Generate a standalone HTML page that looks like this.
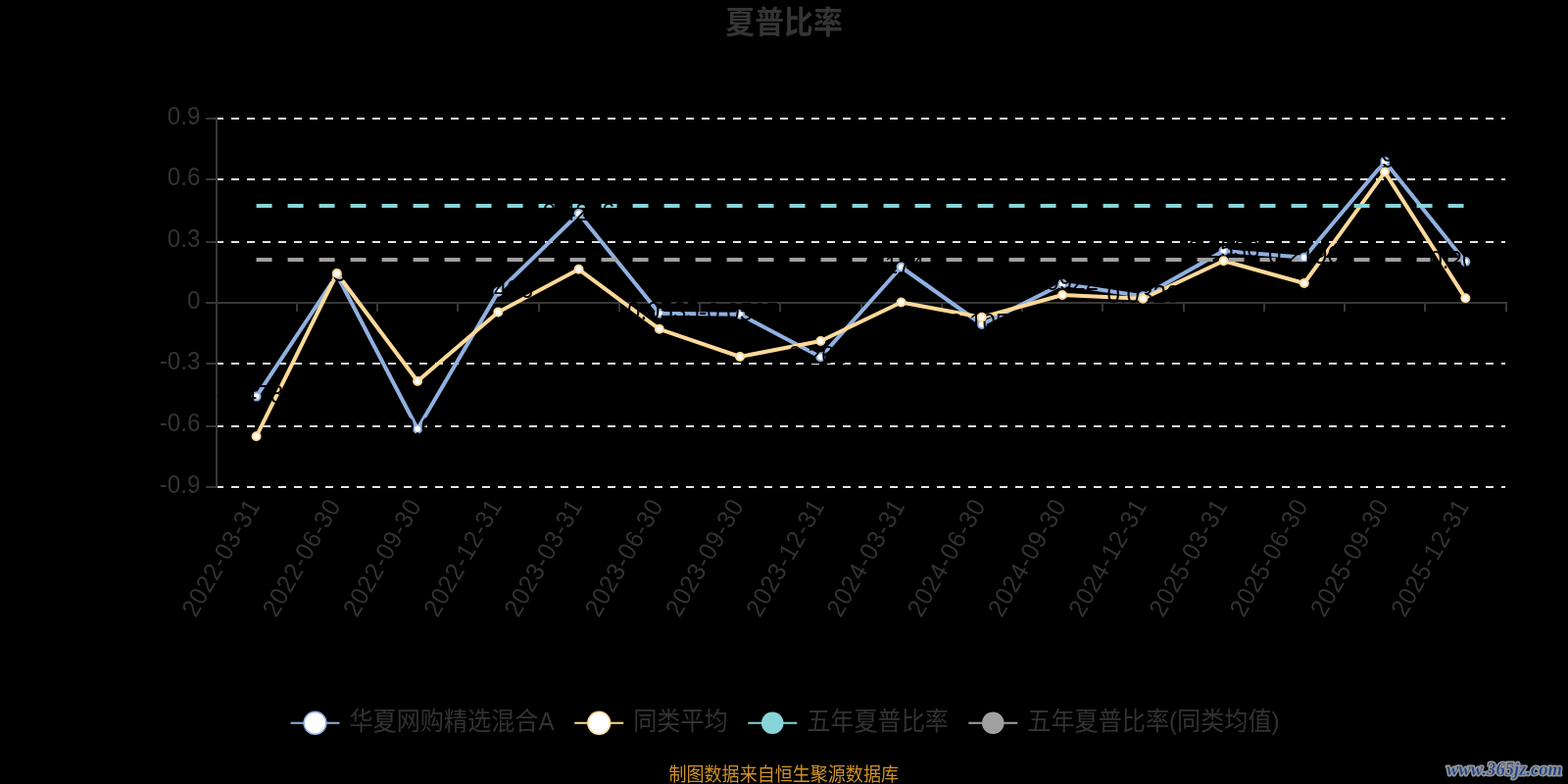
<!DOCTYPE html>
<html lang="zh-CN"><head><meta charset="utf-8"><title>夏普比率</title>
<style>
html,body{margin:0;padding:0;background:#000;}
body{width:1600px;height:800px;overflow:hidden;font-family:"Liberation Sans",sans-serif;}
svg{display:block;position:absolute;left:0;top:0;will-change:transform;}
text{font-family:"Liberation Sans",sans-serif;}
.cjk{font-family:"Liberation Sans","Noto Sans CJK SC",sans-serif;}
.ax{font-size:25.8px;fill:#323232;}
.lb{font-size:25.8px;fill:#000;text-anchor:middle;}
.wm{font-family:"Liberation Serif",serif;font-weight:bold;font-style:italic;font-size:18.6px;}
</style></head><body>
<svg width="1600" height="800" viewBox="0 0 1600 800">
<rect width="1600" height="800" fill="#000"/>
<text class="cjk" font-size="32" font-weight="bold" fill="#343434" transform="translate(740.23 34.23) scale(0.935 1)">夏普比率</text>
<g fill="#e5e5e5" shape-rendering="crispEdges">
<path d="M220 120h8v2h-8zM236 120h8v2h-8zM252 120h8v2h-8zM268 120h8v2h-8zM284 120h8v2h-8zM300 120h8v2h-8zM316 120h8v2h-8zM332 120h8v2h-8zM348 120h8v2h-8zM364 120h8v2h-8zM380 120h8v2h-8zM396 120h8v2h-8zM412 120h8v2h-8zM428 120h8v2h-8zM444 120h8v2h-8zM460 120h8v2h-8zM476 120h8v2h-8zM492 120h8v2h-8zM508 120h8v2h-8zM524 120h8v2h-8zM540 120h8v2h-8zM556 120h8v2h-8zM572 120h8v2h-8zM588 120h8v2h-8zM604 120h8v2h-8zM620 120h8v2h-8zM636 120h8v2h-8zM652 120h8v2h-8zM668 120h8v2h-8zM684 120h8v2h-8zM700 120h8v2h-8zM716 120h8v2h-8zM732 120h8v2h-8zM748 120h8v2h-8zM764 120h8v2h-8zM780 120h8v2h-8zM796 120h8v2h-8zM812 120h8v2h-8zM828 120h8v2h-8zM844 120h8v2h-8zM860 120h8v2h-8zM876 120h8v2h-8zM892 120h8v2h-8zM908 120h8v2h-8zM924 120h8v2h-8zM940 120h8v2h-8zM956 120h8v2h-8zM972 120h8v2h-8zM988 120h8v2h-8zM1004 120h8v2h-8zM1020 120h8v2h-8zM1036 120h8v2h-8zM1052 120h8v2h-8zM1068 120h8v2h-8zM1084 120h8v2h-8zM1100 120h8v2h-8zM1116 120h8v2h-8zM1132 120h8v2h-8zM1148 120h8v2h-8zM1164 120h8v2h-8zM1180 120h8v2h-8zM1196 120h8v2h-8zM1212 120h8v2h-8zM1228 120h8v2h-8zM1244 120h8v2h-8zM1260 120h8v2h-8zM1276 120h8v2h-8zM1292 120h8v2h-8zM1308 120h8v2h-8zM1324 120h8v2h-8zM1340 120h8v2h-8zM1356 120h8v2h-8zM1372 120h8v2h-8zM1388 120h8v2h-8zM1404 120h8v2h-8zM1420 120h8v2h-8zM1436 120h8v2h-8zM1452 120h8v2h-8zM1468 120h8v2h-8zM1484 120h8v2h-8zM1500 120h8v2h-8zM1516 120h8v2h-8zM1532 120h4v2h-4z"/>
<path d="M220 182h8v2h-8zM236 182h8v2h-8zM252 182h8v2h-8zM268 182h8v2h-8zM284 182h8v2h-8zM300 182h8v2h-8zM316 182h8v2h-8zM332 182h8v2h-8zM348 182h8v2h-8zM364 182h8v2h-8zM380 182h8v2h-8zM396 182h8v2h-8zM412 182h8v2h-8zM428 182h8v2h-8zM444 182h8v2h-8zM460 182h8v2h-8zM476 182h8v2h-8zM492 182h8v2h-8zM508 182h8v2h-8zM524 182h8v2h-8zM540 182h8v2h-8zM556 182h8v2h-8zM572 182h8v2h-8zM588 182h8v2h-8zM604 182h8v2h-8zM620 182h8v2h-8zM636 182h8v2h-8zM652 182h8v2h-8zM668 182h8v2h-8zM684 182h8v2h-8zM700 182h8v2h-8zM716 182h8v2h-8zM732 182h8v2h-8zM748 182h8v2h-8zM764 182h8v2h-8zM780 182h8v2h-8zM796 182h8v2h-8zM812 182h8v2h-8zM828 182h8v2h-8zM844 182h8v2h-8zM860 182h8v2h-8zM876 182h8v2h-8zM892 182h8v2h-8zM908 182h8v2h-8zM924 182h8v2h-8zM940 182h8v2h-8zM956 182h8v2h-8zM972 182h8v2h-8zM988 182h8v2h-8zM1004 182h8v2h-8zM1020 182h8v2h-8zM1036 182h8v2h-8zM1052 182h8v2h-8zM1068 182h8v2h-8zM1084 182h8v2h-8zM1100 182h8v2h-8zM1116 182h8v2h-8zM1132 182h8v2h-8zM1148 182h8v2h-8zM1164 182h8v2h-8zM1180 182h8v2h-8zM1196 182h8v2h-8zM1212 182h8v2h-8zM1228 182h8v2h-8zM1244 182h8v2h-8zM1260 182h8v2h-8zM1276 182h8v2h-8zM1292 182h8v2h-8zM1308 182h8v2h-8zM1324 182h8v2h-8zM1340 182h8v2h-8zM1356 182h8v2h-8zM1372 182h8v2h-8zM1388 182h8v2h-8zM1404 182h8v2h-8zM1420 182h8v2h-8zM1436 182h8v2h-8zM1452 182h8v2h-8zM1468 182h8v2h-8zM1484 182h8v2h-8zM1500 182h8v2h-8zM1516 182h8v2h-8zM1532 182h4v2h-4z"/>
<path d="M220 246h8v2h-8zM236 246h8v2h-8zM252 246h8v2h-8zM268 246h8v2h-8zM284 246h8v2h-8zM300 246h8v2h-8zM316 246h8v2h-8zM332 246h8v2h-8zM348 246h8v2h-8zM364 246h8v2h-8zM380 246h8v2h-8zM396 246h8v2h-8zM412 246h8v2h-8zM428 246h8v2h-8zM444 246h8v2h-8zM460 246h8v2h-8zM476 246h8v2h-8zM492 246h8v2h-8zM508 246h8v2h-8zM524 246h8v2h-8zM540 246h8v2h-8zM556 246h8v2h-8zM572 246h8v2h-8zM588 246h8v2h-8zM604 246h8v2h-8zM620 246h8v2h-8zM636 246h8v2h-8zM652 246h8v2h-8zM668 246h8v2h-8zM684 246h8v2h-8zM700 246h8v2h-8zM716 246h8v2h-8zM732 246h8v2h-8zM748 246h8v2h-8zM764 246h8v2h-8zM780 246h8v2h-8zM796 246h8v2h-8zM812 246h8v2h-8zM828 246h8v2h-8zM844 246h8v2h-8zM860 246h8v2h-8zM876 246h8v2h-8zM892 246h8v2h-8zM908 246h8v2h-8zM924 246h8v2h-8zM940 246h8v2h-8zM956 246h8v2h-8zM972 246h8v2h-8zM988 246h8v2h-8zM1004 246h8v2h-8zM1020 246h8v2h-8zM1036 246h8v2h-8zM1052 246h8v2h-8zM1068 246h8v2h-8zM1084 246h8v2h-8zM1100 246h8v2h-8zM1116 246h8v2h-8zM1132 246h8v2h-8zM1148 246h8v2h-8zM1164 246h8v2h-8zM1180 246h8v2h-8zM1196 246h8v2h-8zM1212 246h8v2h-8zM1228 246h8v2h-8zM1244 246h8v2h-8zM1260 246h8v2h-8zM1276 246h8v2h-8zM1292 246h8v2h-8zM1308 246h8v2h-8zM1324 246h8v2h-8zM1340 246h8v2h-8zM1356 246h8v2h-8zM1372 246h8v2h-8zM1388 246h8v2h-8zM1404 246h8v2h-8zM1420 246h8v2h-8zM1436 246h8v2h-8zM1452 246h8v2h-8zM1468 246h8v2h-8zM1484 246h8v2h-8zM1500 246h8v2h-8zM1516 246h8v2h-8zM1532 246h4v2h-4z"/>
<path d="M220 370h8v2h-8zM236 370h8v2h-8zM252 370h8v2h-8zM268 370h8v2h-8zM284 370h8v2h-8zM300 370h8v2h-8zM316 370h8v2h-8zM332 370h8v2h-8zM348 370h8v2h-8zM364 370h8v2h-8zM380 370h8v2h-8zM396 370h8v2h-8zM412 370h8v2h-8zM428 370h8v2h-8zM444 370h8v2h-8zM460 370h8v2h-8zM476 370h8v2h-8zM492 370h8v2h-8zM508 370h8v2h-8zM524 370h8v2h-8zM540 370h8v2h-8zM556 370h8v2h-8zM572 370h8v2h-8zM588 370h8v2h-8zM604 370h8v2h-8zM620 370h8v2h-8zM636 370h8v2h-8zM652 370h8v2h-8zM668 370h8v2h-8zM684 370h8v2h-8zM700 370h8v2h-8zM716 370h8v2h-8zM732 370h8v2h-8zM748 370h8v2h-8zM764 370h8v2h-8zM780 370h8v2h-8zM796 370h8v2h-8zM812 370h8v2h-8zM828 370h8v2h-8zM844 370h8v2h-8zM860 370h8v2h-8zM876 370h8v2h-8zM892 370h8v2h-8zM908 370h8v2h-8zM924 370h8v2h-8zM940 370h8v2h-8zM956 370h8v2h-8zM972 370h8v2h-8zM988 370h8v2h-8zM1004 370h8v2h-8zM1020 370h8v2h-8zM1036 370h8v2h-8zM1052 370h8v2h-8zM1068 370h8v2h-8zM1084 370h8v2h-8zM1100 370h8v2h-8zM1116 370h8v2h-8zM1132 370h8v2h-8zM1148 370h8v2h-8zM1164 370h8v2h-8zM1180 370h8v2h-8zM1196 370h8v2h-8zM1212 370h8v2h-8zM1228 370h8v2h-8zM1244 370h8v2h-8zM1260 370h8v2h-8zM1276 370h8v2h-8zM1292 370h8v2h-8zM1308 370h8v2h-8zM1324 370h8v2h-8zM1340 370h8v2h-8zM1356 370h8v2h-8zM1372 370h8v2h-8zM1388 370h8v2h-8zM1404 370h8v2h-8zM1420 370h8v2h-8zM1436 370h8v2h-8zM1452 370h8v2h-8zM1468 370h8v2h-8zM1484 370h8v2h-8zM1500 370h8v2h-8zM1516 370h8v2h-8zM1532 370h4v2h-4z"/>
<path d="M220 434h8v2h-8zM236 434h8v2h-8zM252 434h8v2h-8zM268 434h8v2h-8zM284 434h8v2h-8zM300 434h8v2h-8zM316 434h8v2h-8zM332 434h8v2h-8zM348 434h8v2h-8zM364 434h8v2h-8zM380 434h8v2h-8zM396 434h8v2h-8zM412 434h8v2h-8zM428 434h8v2h-8zM444 434h8v2h-8zM460 434h8v2h-8zM476 434h8v2h-8zM492 434h8v2h-8zM508 434h8v2h-8zM524 434h8v2h-8zM540 434h8v2h-8zM556 434h8v2h-8zM572 434h8v2h-8zM588 434h8v2h-8zM604 434h8v2h-8zM620 434h8v2h-8zM636 434h8v2h-8zM652 434h8v2h-8zM668 434h8v2h-8zM684 434h8v2h-8zM700 434h8v2h-8zM716 434h8v2h-8zM732 434h8v2h-8zM748 434h8v2h-8zM764 434h8v2h-8zM780 434h8v2h-8zM796 434h8v2h-8zM812 434h8v2h-8zM828 434h8v2h-8zM844 434h8v2h-8zM860 434h8v2h-8zM876 434h8v2h-8zM892 434h8v2h-8zM908 434h8v2h-8zM924 434h8v2h-8zM940 434h8v2h-8zM956 434h8v2h-8zM972 434h8v2h-8zM988 434h8v2h-8zM1004 434h8v2h-8zM1020 434h8v2h-8zM1036 434h8v2h-8zM1052 434h8v2h-8zM1068 434h8v2h-8zM1084 434h8v2h-8zM1100 434h8v2h-8zM1116 434h8v2h-8zM1132 434h8v2h-8zM1148 434h8v2h-8zM1164 434h8v2h-8zM1180 434h8v2h-8zM1196 434h8v2h-8zM1212 434h8v2h-8zM1228 434h8v2h-8zM1244 434h8v2h-8zM1260 434h8v2h-8zM1276 434h8v2h-8zM1292 434h8v2h-8zM1308 434h8v2h-8zM1324 434h8v2h-8zM1340 434h8v2h-8zM1356 434h8v2h-8zM1372 434h8v2h-8zM1388 434h8v2h-8zM1404 434h8v2h-8zM1420 434h8v2h-8zM1436 434h8v2h-8zM1452 434h8v2h-8zM1468 434h8v2h-8zM1484 434h8v2h-8zM1500 434h8v2h-8zM1516 434h8v2h-8zM1532 434h4v2h-4z"/>
<path d="M220 496h8v2h-8zM236 496h8v2h-8zM252 496h8v2h-8zM268 496h8v2h-8zM284 496h8v2h-8zM300 496h8v2h-8zM316 496h8v2h-8zM332 496h8v2h-8zM348 496h8v2h-8zM364 496h8v2h-8zM380 496h8v2h-8zM396 496h8v2h-8zM412 496h8v2h-8zM428 496h8v2h-8zM444 496h8v2h-8zM460 496h8v2h-8zM476 496h8v2h-8zM492 496h8v2h-8zM508 496h8v2h-8zM524 496h8v2h-8zM540 496h8v2h-8zM556 496h8v2h-8zM572 496h8v2h-8zM588 496h8v2h-8zM604 496h8v2h-8zM620 496h8v2h-8zM636 496h8v2h-8zM652 496h8v2h-8zM668 496h8v2h-8zM684 496h8v2h-8zM700 496h8v2h-8zM716 496h8v2h-8zM732 496h8v2h-8zM748 496h8v2h-8zM764 496h8v2h-8zM780 496h8v2h-8zM796 496h8v2h-8zM812 496h8v2h-8zM828 496h8v2h-8zM844 496h8v2h-8zM860 496h8v2h-8zM876 496h8v2h-8zM892 496h8v2h-8zM908 496h8v2h-8zM924 496h8v2h-8zM940 496h8v2h-8zM956 496h8v2h-8zM972 496h8v2h-8zM988 496h8v2h-8zM1004 496h8v2h-8zM1020 496h8v2h-8zM1036 496h8v2h-8zM1052 496h8v2h-8zM1068 496h8v2h-8zM1084 496h8v2h-8zM1100 496h8v2h-8zM1116 496h8v2h-8zM1132 496h8v2h-8zM1148 496h8v2h-8zM1164 496h8v2h-8zM1180 496h8v2h-8zM1196 496h8v2h-8zM1212 496h8v2h-8zM1228 496h8v2h-8zM1244 496h8v2h-8zM1260 496h8v2h-8zM1276 496h8v2h-8zM1292 496h8v2h-8zM1308 496h8v2h-8zM1324 496h8v2h-8zM1340 496h8v2h-8zM1356 496h8v2h-8zM1372 496h8v2h-8zM1388 496h8v2h-8zM1404 496h8v2h-8zM1420 496h8v2h-8zM1436 496h8v2h-8zM1452 496h8v2h-8zM1468 496h8v2h-8zM1484 496h8v2h-8zM1500 496h8v2h-8zM1516 496h8v2h-8zM1532 496h4v2h-4z"/>
</g>
<g fill="#373737" shape-rendering="crispEdges">
<rect x="220" y="120" width="2" height="378"/>
<rect x="220" y="119" width="2" height="1" fill-opacity="0.55"/>
<rect x="210" y="120" width="10" height="2"/>
<rect x="210" y="182" width="10" height="2"/>
<rect x="210" y="246" width="10" height="2"/>
<rect x="210" y="308" width="10" height="2"/>
<rect x="210" y="370" width="10" height="2"/>
<rect x="210" y="434" width="10" height="2"/>
<rect x="210" y="496" width="10" height="2"/>
<rect x="220" y="308" width="1318" height="2"/>
<rect x="220" y="310" width="2" height="8"/>
<rect x="302" y="310" width="2" height="8"/>
<rect x="384" y="310" width="2" height="8"/>
<rect x="466" y="310" width="2" height="8"/>
<rect x="549" y="310" width="2" height="8"/>
<rect x="631" y="310" width="2" height="8"/>
<rect x="713" y="310" width="2" height="8"/>
<rect x="795" y="310" width="2" height="8"/>
<rect x="878" y="310" width="2" height="8"/>
<rect x="960" y="310" width="2" height="8"/>
<rect x="1042" y="310" width="2" height="8"/>
<rect x="1124" y="310" width="2" height="8"/>
<rect x="1207" y="310" width="2" height="8"/>
<rect x="1289" y="310" width="2" height="8"/>
<rect x="1371" y="310" width="2" height="8"/>
<rect x="1453" y="310" width="2" height="8"/>
<rect x="1536" y="310" width="2" height="8"/>
</g>
<text class="ax" text-anchor="end" transform="translate(204.4 126.5) scale(0.935 1)">0.9</text>
<text class="ax" text-anchor="end" transform="translate(204.4 189.2) scale(0.935 1)">0.6</text>
<text class="ax" text-anchor="end" transform="translate(204.4 251.8) scale(0.935 1)">0.3</text>
<text class="ax" text-anchor="end" transform="translate(204.4 314.5) scale(0.935 1)">0</text>
<text class="ax" text-anchor="end" transform="translate(204.4 377.2) scale(0.935 1)">-0.3</text>
<text class="ax" text-anchor="end" transform="translate(204.4 439.8) scale(0.935 1)">-0.6</text>
<text class="ax" text-anchor="end" transform="translate(204.4 502.5) scale(0.935 1)">-0.9</text>
<text class="ax" letter-spacing="1.1" transform="translate(199.65 630.95) rotate(-60) scale(0.935 1)">2022-03-31</text>
<text class="ax" letter-spacing="1.1" transform="translate(281.90 630.95) rotate(-60) scale(0.935 1)">2022-06-30</text>
<text class="ax" letter-spacing="1.1" transform="translate(364.15 630.95) rotate(-60) scale(0.935 1)">2022-09-30</text>
<text class="ax" letter-spacing="1.1" transform="translate(446.40 630.95) rotate(-60) scale(0.935 1)">2022-12-31</text>
<text class="ax" letter-spacing="1.1" transform="translate(528.65 630.95) rotate(-60) scale(0.935 1)">2023-03-31</text>
<text class="ax" letter-spacing="1.1" transform="translate(610.90 630.95) rotate(-60) scale(0.935 1)">2023-06-30</text>
<text class="ax" letter-spacing="1.1" transform="translate(693.15 630.95) rotate(-60) scale(0.935 1)">2023-09-30</text>
<text class="ax" letter-spacing="1.1" transform="translate(775.40 630.95) rotate(-60) scale(0.935 1)">2023-12-31</text>
<text class="ax" letter-spacing="1.1" transform="translate(857.65 630.95) rotate(-60) scale(0.935 1)">2024-03-31</text>
<text class="ax" letter-spacing="1.1" transform="translate(939.90 630.95) rotate(-60) scale(0.935 1)">2024-06-30</text>
<text class="ax" letter-spacing="1.1" transform="translate(1022.15 630.95) rotate(-60) scale(0.935 1)">2024-09-30</text>
<text class="ax" letter-spacing="1.1" transform="translate(1104.40 630.95) rotate(-60) scale(0.935 1)">2024-12-31</text>
<text class="ax" letter-spacing="1.1" transform="translate(1186.65 630.95) rotate(-60) scale(0.935 1)">2025-03-31</text>
<text class="ax" letter-spacing="1.1" transform="translate(1268.90 630.95) rotate(-60) scale(0.935 1)">2025-06-30</text>
<text class="ax" letter-spacing="1.1" transform="translate(1351.15 630.95) rotate(-60) scale(0.935 1)">2025-09-30</text>
<text class="ax" letter-spacing="1.1" transform="translate(1433.40 630.95) rotate(-60) scale(0.935 1)">2025-12-31</text>
<polyline points="261.57,404.60 343.82,280.50 426.07,437.70 508.32,297.80 590.58,218.00 672.83,319.70 755.08,320.80 837.33,364.30 919.58,272.50 1001.83,331.00 1084.08,289.80 1166.33,302.20 1248.58,256.00 1330.83,262.80 1413.08,164.70 1495.33,267.10" fill="none" stroke="#8fb0e0" stroke-width="4" stroke-linejoin="bevel"/>
<polyline points="261.57,445.30 343.82,279.00 426.07,389.00 508.32,318.50 590.58,274.80 672.83,335.80 755.08,364.00 837.33,348.00 919.58,308.50 1001.83,323.80 1084.08,301.00 1166.33,304.80 1248.58,266.20 1330.83,289.00 1413.08,175.60 1495.33,304.30" fill="none" stroke="#fdd998" stroke-width="4" stroke-linejoin="bevel"/>
<path d="M261.57 210.0H1495.33" stroke="#87d4d8" stroke-width="4" stroke-dasharray="16 16" fill="none"/>
<path d="M261.57 265.0H1495.33" stroke="#a0a0a0" stroke-width="4" stroke-dasharray="16 16" fill="none"/>
<g fill="#fff" stroke="#8fb0e0" stroke-width="2">
<circle cx="261.57" cy="404.60" r="4"/>
<circle cx="343.82" cy="280.50" r="4"/>
<circle cx="426.07" cy="437.70" r="4"/>
<circle cx="508.32" cy="297.80" r="4"/>
<circle cx="590.58" cy="218.00" r="4"/>
<circle cx="672.83" cy="319.70" r="4"/>
<circle cx="755.08" cy="320.80" r="4"/>
<circle cx="837.33" cy="364.30" r="4"/>
<circle cx="919.58" cy="272.50" r="4"/>
<circle cx="1001.83" cy="331.00" r="4"/>
<circle cx="1084.08" cy="289.80" r="4"/>
<circle cx="1166.33" cy="302.20" r="4"/>
<circle cx="1248.58" cy="256.00" r="4"/>
<circle cx="1330.83" cy="262.80" r="4"/>
<circle cx="1413.08" cy="164.70" r="4"/>
<circle cx="1495.33" cy="267.10" r="4"/>
</g>
<g>
<text class="lb" transform="translate(261.57 411.20) scale(0.935 1)">-0.4783</text>
<text class="lb" transform="translate(342.82 287.10) scale(0.935 1)">0.1305</text>
<text class="lb" transform="translate(428.68 444.30) scale(0.935 1)">-0.62</text>
<text class="lb" transform="translate(507.32 304.40) scale(0.935 1)">0.0436</text>
<text class="lb" transform="translate(590.58 224.60) scale(0.935 1)">0.4236</text>
<text class="lb" transform="translate(672.83 326.30) scale(0.935 1)">-0.0535</text>
<text class="lb" transform="translate(754.08 327.40) scale(0.935 1)">-0.0565</text>
<text class="lb" transform="translate(837.33 370.90) scale(0.935 1)">-0.2647</text>
<text class="lb" transform="translate(919.58 279.10) scale(0.935 1)">0.1747</text>
<text class="lb" transform="translate(1001.83 337.60) scale(0.935 1)">-0.1053</text>
<text class="lb" transform="translate(1084.08 296.40) scale(0.935 1)">0.0922</text>
<text class="lb" transform="translate(1166.33 308.80) scale(0.935 1)">0.0326</text>
<text class="lb" transform="translate(1248.58 262.60) scale(0.935 1)">0.2536</text>
<text class="lb" transform="translate(1330.83 269.40) scale(0.935 1)">0.2196</text>
<text class="lb" transform="translate(1413.08 171.30) scale(0.935 1)">0.6906</text>
<text class="lb" transform="translate(1495.33 273.70) scale(0.935 1)">0.2006</text>
</g>
<g fill="#fff" stroke="#fdd998" stroke-width="2">
<circle cx="261.57" cy="445.30" r="4"/>
<circle cx="343.82" cy="279.00" r="4"/>
<circle cx="426.07" cy="389.00" r="4"/>
<circle cx="508.32" cy="318.50" r="4"/>
<circle cx="590.58" cy="274.80" r="4"/>
<circle cx="672.83" cy="335.80" r="4"/>
<circle cx="755.08" cy="364.00" r="4"/>
<circle cx="837.33" cy="348.00" r="4"/>
<circle cx="919.58" cy="308.50" r="4"/>
<circle cx="1001.83" cy="323.80" r="4"/>
<circle cx="1084.08" cy="301.00" r="4"/>
<circle cx="1166.33" cy="304.80" r="4"/>
<circle cx="1248.58" cy="266.20" r="4"/>
<circle cx="1330.83" cy="289.00" r="4"/>
<circle cx="1413.08" cy="175.60" r="4"/>
<circle cx="1495.33" cy="304.30" r="4"/>
</g>
<path d="M296.50 737.80h50" stroke="#8fb0e0" stroke-width="2" fill="none"/>
<circle cx="321.50" cy="737.80" r="11.4" fill="#fff" stroke="#8fb0e0" stroke-width="1.6"/>
<text class="cjk" font-size="25.8" fill="#323232" transform="translate(356.50 745.03) scale(0.935 1)">华夏网购精选混合A</text>
<path d="M586.25 737.80h50" stroke="#fdd998" stroke-width="2" fill="none"/>
<circle cx="611.25" cy="737.80" r="11.4" fill="#fff" stroke="#fdd998" stroke-width="1.6"/>
<text class="cjk" font-size="25.8" fill="#323232" transform="translate(646.25 745.03) scale(0.935 1)">同类平均</text>
<path d="M763.25 737.80h50" stroke="#87d4d8" stroke-width="2" fill="none"/>
<circle cx="788.25" cy="737.80" r="11.3" fill="#87d4d8"/>
<text class="cjk" font-size="25.8" fill="#323232" transform="translate(823.25 745.03) scale(0.935 1)">五年夏普比率</text>
<path d="M988.30 737.80h50" stroke="#a0a0a0" stroke-width="2" fill="none"/>
<circle cx="1013.30" cy="737.80" r="11.3" fill="#a0a0a0"/>
<text class="cjk" font-size="25.8" fill="#323232" transform="translate(1048.30 745.03) scale(0.935 1)">五年夏普比率(同类均值)</text>
<text class="cjk" font-size="19.3" fill="#cf9229" transform="translate(682.52 796.73) scale(0.935 1)">制图数据来自恒生聚源数据库</text>
<text class="wm" x="1535" y="791.3" text-anchor="middle" fill="#969696" stroke="#969696" stroke-width="3" stroke-linejoin="round">www.365jz.com</text>
<text class="wm" x="1535" y="791.3" text-anchor="middle" fill="#18428c" stroke="#969696" stroke-width="0.3" stroke-linejoin="round" aria-hidden="true">www.365jz.com</text>
</svg>
</body></html>
